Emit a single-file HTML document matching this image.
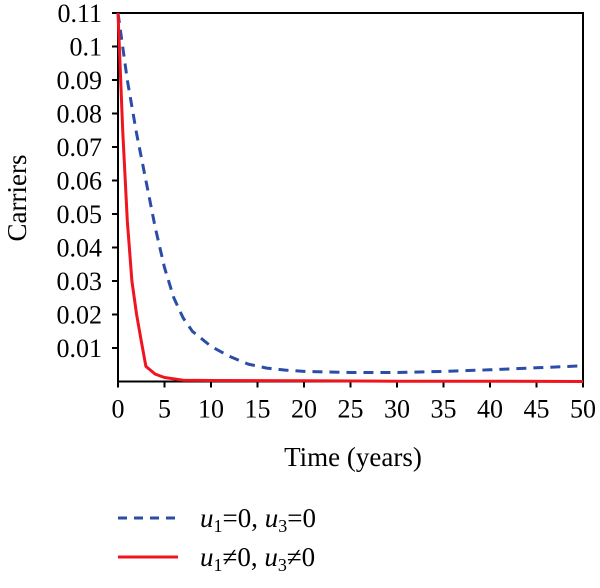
<!DOCTYPE html>
<html><head><meta charset="utf-8"><style>
body{margin:0;background:#fff;}
svg text{font-family:"Liberation Serif",serif;fill:#000;}
</style></head><body>
<svg id="chart" width="600" height="583" xmlns="http://www.w3.org/2000/svg">
<g id="axes"></g>
<g id="series"></g>
<text x="353" y="466" font-size="27" text-anchor="middle">Time (years)</text>
<text transform="translate(26,198) rotate(-90)" font-size="27" text-anchor="middle">Carriers</text>
<g>
<line x1="118" y1="518" x2="178" y2="518" stroke="#2a4da8" stroke-width="3" stroke-dasharray="9,7"/>
<text x="200" y="527" font-size="27"><tspan font-style="italic">u</tspan><tspan font-size="18" dy="5">1</tspan><tspan dy="-5">=0, </tspan><tspan font-style="italic">u</tspan><tspan font-size="18" dy="5">3</tspan><tspan dy="-5">=0</tspan></text>
<line x1="118" y1="557" x2="178" y2="557" stroke="#f0141e" stroke-width="3"/>
<text x="200" y="566" font-size="27"><tspan font-style="italic">u</tspan><tspan font-size="18" dy="5">1</tspan><tspan dy="-5">≠0, </tspan><tspan font-style="italic">u</tspan><tspan font-size="18" dy="5">3</tspan><tspan dy="-5">≠0</tspan></text>
</g>
</svg>
<script>
const xTicks=[0,5,10,15,20,25,30,35,40,45,50];
const yTicks=[0.01,0.02,0.03,0.04,0.05,0.06,0.07,0.08,0.09,0.1,0.11];
const yTickLabels=["0.01","0.02","0.03","0.04","0.05","0.06","0.07","0.08","0.09","0.1","0.11"];
const blueT=[0,1,2,3,4,5,6,7,8,10,12,14,16,18,20,25,30,35,40,45,50];
const blueV=[0.11,0.09,0.074,0.06,0.046,0.034,0.025,0.019,0.015,0.0105,0.0075,0.0052,0.004,0.0034,0.003,0.0027,0.0027,0.003,0.0035,0.0041,0.0047];
const redT=[0,0.5,1,1.5,2,2.5,3,4,5,7,10,20,30,40,50];
const redV=[0.11,0.075,0.048,0.03,0.02,0.012,0.0045,0.0022,0.0012,0.0004,0.0003,0.0002,0.0001,0.0001,0];
const X0=118,X1=583,Y0=381.5,Y1=13;
const sx=t=>X0+(t-0)/(50-0)*(X1-X0);
const sy=v=>Y0-(v/0.11)*(Y0-Y1);
const NS="http://www.w3.org/2000/svg";
const axes=document.getElementById('axes'),ser=document.getElementById('series');
function mk(tag,attrs,parent){const e=document.createElementNS(NS,tag);for(const k in attrs)e.setAttribute(k,attrs[k]);parent.appendChild(e);return e;}
let e;
e=mk('path',{d:`M${X0},${Y1}H${X1}V${Y0}H${X0}Z`,fill:'none',stroke:'#000','stroke-width':2},axes);


xTicks.forEach(t=>{
 const l=mk('line',{x1:sx(t),x2:sx(t),y1:Y0,y2:Y0+6,stroke:'#000','stroke-width':2},axes);
 
 
 const tx=mk('text',{x:sx(t),y:Y0+36,'font-size':26,'text-anchor':'middle'},axes);tx.textContent=t;
 
 
});
yTicks.forEach((v,i)=>{
 const l=mk('line',{x1:X0-6,x2:X0,y1:sy(v),y2:sy(v),stroke:'#000','stroke-width':2},axes);
 
 
 const tx=mk('text',{x:X0-16,y:sy(v)+9,'font-size':26,'text-anchor':'end'},axes);tx.textContent=yTickLabels[i];
 
 
});
function line(T,V,color,dash,name){
 const d=T.map((t,i)=>(i?'L':'M')+sx(t).toFixed(1)+','+sy(V[i]).toFixed(1)).join('');
 const p=mk('path',{d:d,fill:'none',stroke:color,'stroke-width':3,'stroke-linejoin':'round'},ser);
 if(dash)p.setAttribute('stroke-dasharray',dash);
 
 
}
line(blueT,blueV,'#2a4da8','10,7','series-no-control');
line(redT,redV,'#f0141e',null,'series-control');
</script>
</body></html>
